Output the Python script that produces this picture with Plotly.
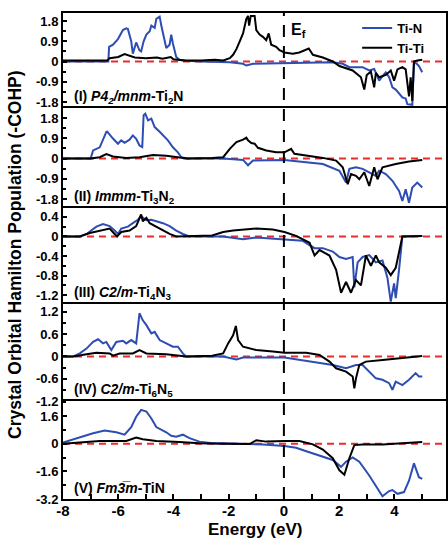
import plotly.graph_objects as go
from plotly.subplots import make_subplots

# ---------------- data (energy in eV, -COHP) ----------------
# Panel I : P4_2/mnm-Ti2N
E_TiN_1 = [-8, -6.36, -6.33, -6.19, -6.01, -5.83, -5.71, -5.65, -5.53, -5.47, -5.35, -5.23, -5.17, -5.08,
           -4.98, -4.86, -4.80, -4.68, -4.62, -4.50, -4.44, -4.38, -4.26, -4.14, -4.08, -4.02, -3.90, -3.78,
           -3.54, -3.0, -2.2, -1.96, -1.48, -1.36, -1.12, 0.02, 0.81, 1.77, 2.13, 2.37, 2.85, 3.09, 3.27,
           3.45, 3.57, 3.69, 3.81, 3.93, 4.05, 4.17, 4.29, 4.41, 4.47, 4.65, 4.68, 4.71, 4.83, 4.89, 5.01]
COHP_TiN_1 = [0, 0, 0.65, 0.75, 1.0, 1.4, 1.48, 1.45, 0.9, 0.35, 0.85, 0.5, 0.45, 0.9,
              1.2, 1.35, 1.6, 1.5, 1.9, 2.0, 1.6, 1.3, 0.6, 0.75, 1.2, 0.8, 0.2, 0.08,
              0.03, 0.0, -0.03, -0.03, -0.1, -0.18, -0.1, -0.07, -0.05, -0.03, -0.1, -0.25, -0.25, -0.4, -0.33,
              -0.85, -0.65, -0.48, -0.7, -1.15, -1.25, -1.45, -1.6, -1.65, -1.9, -1.93, -1.0, -0.03, -0.12, -0.2, -0.48]
E_TiTi_1 = [-8, -6.4, -6.31, -6.0, -5.77, -5.6, -5.4, -5.0, -4.6, -4.4, -4.1, -4.0, -3.6, -3.0, -2.5, -2.2,
            -1.96, -1.84, -1.72, -1.6, -1.48, -1.36, -1.30, -1.26, -1.2, -1.06, -1.0, -0.88, -0.76, -0.64,
            -0.55, -0.46, -0.28, -0.16, 0.02, 0.32, 0.56, 0.9, 1.05, 1.41, 1.77, 2.01, 2.25, 2.49, 2.79, 2.91,
            3.0, 3.15, 3.27, 3.33, 3.45, 3.69, 3.87, 3.99, 4.11, 4.29, 4.41, 4.47, 4.53, 4.59, 4.65, 4.71,
            4.83, 5.01]
COHP_TiTi_1 = [0.04, 0.04, 0.15, 0.2, 0.33, 0.25, 0.18, 0.15, 0.18, 0.12, 0.2, 0.1, 0.04, 0.04, 0.08, 0.05,
               0.15, 0.3, 0.55, 0.9, 1.25, 1.9, 2.03, 1.6, 2.03, 2.03, 1.4, 1.2, 1.1, 0.95,
               1.25, 0.75, 0.65, 0.5, 0.4, 0.35, 0.4, 0.58, 0.3, 0.18, 0.0, -0.2, -0.3, -0.4, -0.7, -1.25,
               -0.6, -0.45, -1.15, -0.5, -0.7, -0.6, -0.4, -0.85, -0.35, -0.25, -0.35, -0.85, -1.55, -0.7, -1.75, 0.0,
               0.05, 0.08]

# Panel II : Immm-Ti3N2
E_TiN_2 = [-8, -7.0, -6.91, -6.67, -6.43, -6.4, -6.19, -6.01, -5.89, -5.77, -5.59, -5.47, -5.35, -5.23,
           -5.13, -5.08, -5.02, -4.92, -4.8, -4.68, -4.5, -4.32, -4.2, -4.02, -3.84, -3.72, -3.5, -2.2,
           -1.48, -1.30, -1.12, 0.02, 0.93, 1.41, 2.01, 2.25, 2.37, 2.61, 2.85, 3.09, 3.33, 3.45, 3.69,
           3.93, 4.17, 4.29, 4.41, 4.53, 4.65, 4.83, 5.01]
COHP_TiN_2 = [0, 0, 0.36, 0.5, 1.19, 1.2, 0.89, 0.66, 0.81, 0.7, 0.84, 1.03, 0.88, 0.58,
              0.51, 1.93, 2.0, 1.7, 1.78, 1.4, 1.19, 0.96, 0.81, 0.5, 0.28, 0.06, 0.0, 0.0,
              -0.06, -0.3, -0.09, -0.06, -0.17, -0.24, -0.54, -1.07, -0.46, -0.39, -0.46, -0.61, -0.77, -0.54, -0.69,
              -0.99, -1.44, -1.89, -1.37, -1.97, -1.29, -1.07, -1.29]
E_TiTi_2 = [-8, -7.0, -6.67, -6.43, -6.19, -5.71, -5.23, -4.74, -4.26, -3.78, -3.5, -2.6, -2.2,
            -1.96, -1.72, -1.48, -1.36, -1.30, -1.18, -1.06, -0.94, -0.64, -0.28, 0.02, 0.26, 0.38, 0.93,
            1.41, 1.89, 2.13, 2.31, 2.43, 2.61, 2.73, 2.91, 3.09, 3.27, 3.39, 3.57, 3.81, 4.05, 4.53, 5.01]
COHP_TiTi_2 = [0, 0, 0.06, 0.2, 0.09, 0.03, 0.06, 0.16, 0.13, 0.03, 0, 0.02, 0.06,
               0.43, 0.73, 0.84, 0.93, 0.81, 0.69, 0.66, 0.48, 0.36, 0.28, 0.28, 0.43, 0.21, 0.13,
               0.03, -0.09, -0.39, -1.14, -0.69, -0.77, -0.92, -0.61, -1.22, -0.39, -0.92, -0.39, -0.31, -0.24, -0.13, -0.06]

# Panel III : C2/m-Ti4N3
E_TiN_3 = [-8, -7.39, -7.15, -6.79, -6.55, -6.31, -6.13, -6.01, -5.89, -5.65, -5.47, -5.29, -5.17, -4.98,
           -4.8, -4.62, -4.38, -4.14, -3.9, -3.66, -3.42, -2.2, -1.48, -1.0, 0.02, 0.68, 1.11, 1.41, 1.77,
           2.01, 2.25, 2.49, 2.55, 2.67, 2.85, 3.09, 3.33, 3.57, 3.75, 3.87, 3.99, 4.05, 4.17, 4.29, 5.01]
COHP_TiN_3 = [0, 0, 0.05, 0.2, 0.25, 0.21, 0.12, 0.05, 0.16, 0.2, 0.27, 0.34, 0.41, 0.33,
              0.34, 0.31, 0.27, 0.21, 0.12, 0.05, 0, 0, -0.06, -0.02, -0.06, -0.09, -0.24, -0.24, -0.31,
              -0.42, -0.46, -0.42, -1.04, -0.53, -0.42, -0.38, -0.53, -0.49, -0.85, -1.33, -0.96, -1.26, -0.68, 0.0, 0.01]
E_TiTi_3 = [-8, -7.39, -7.03, -6.67, -6.31, -6.13, -6.04, -5.89, -5.59, -5.35, -5.17, -5.11, -4.98, -4.86,
            -4.62, -4.38, -4.14, -3.9, -2.6, -2.2, -1.84, -1.0, -0.4, 0.02, 0.44, 0.93, 1.11, 1.29, 1.65,
            1.89, 2.07, 2.25, 2.43, 2.61, 2.79, 2.97, 3.15, 3.33, 3.45, 3.69, 3.87, 4.05, 4.17, 4.29, 5.01]
COHP_TiTi_3 = [0, 0, 0.07, 0.11, 0.16, 0.05, 0.0, 0.09, 0.12, 0.21, 0.45, 0.31, 0.38, 0.27,
               0.2, 0.12, 0.05, 0.0, 0.02, 0.09, 0.12, 0.16, 0.14, 0.09, 0.01, -0.13, -0.39, -0.28, -0.39,
               -0.68, -1.15, -0.93, -1.15, -0.89, -1.0, -0.39, -0.6, -0.39, -0.53, -0.64, -0.79, -0.64, -0.31, 0.0, 0.01]

# Panel IV : C2/m-Ti6N5
E_TiN_4 = [-8, -7.63, -7.39, -7.15, -6.91, -6.73, -6.55, -6.43, -6.25, -6.07, -5.83, -5.71, -5.53, -5.35,
           -5.23, -5.11, -4.98, -4.8, -4.68, -4.5, -4.26, -4.02, -3.84, -3.66, -3.54, -2.2, -1.72, -1.48,
           0.02, 0.81, 1.29, 1.77, 2.25, 2.61, 2.85, 3.09, 3.33, 3.57, 3.81, 3.93, 4.05, 4.29, 4.53, 4.77,
           4.89, 5.01]
COHP_TiN_4 = [0, 0, 0.08, 0.21, 0.39, 0.46, 0.35, 0.39, 0.17, 0.39, 0.42, 0.35, 0.44, 0.35,
              1.16, 0.97, 0.84, 0.62, 0.66, 0.44, 0.35, 0.26, 0.26, 0.08, 0, 0, -0.08, -0.03,
              -0.03, -0.12, -0.19, -0.23, -0.32, -0.23, -0.23, -0.41, -0.59, -0.63, -0.72, -0.9, -0.68, -0.77, -0.63, -0.45,
              -0.54, -0.54]
E_TiTi_4 = [-8, -7.63, -7.15, -6.79, -6.31, -6.19, -5.95, -5.47, -5.23, -4.98, -4.26, -3.78, -3.54, -2.6,
            -2.2, -2.02, -1.84, -1.74, -1.66, -1.48, -1.0, -0.4, 0.02, 0.81, 1.29, 1.65, 1.89, 2.25, 2.49,
            2.55, 2.61, 2.73, 2.97, 3.57, 4.17, 4.77, 5.01]
COHP_TiTi_4 = [0, 0, 0.06, 0.1, 0.08, 0.02, 0.08, 0.08, 0.17, 0.08, 0.06, 0.02, 0, 0.02,
               0.08, 0.35, 0.57, 0.82, 0.44, 0.26, 0.17, 0.13, 0.1, 0.1, 0.04, -0.14, -0.32, -0.41, -0.54,
               -0.86, -0.59, -0.23, -0.14, -0.1, -0.05, 0.01, 0.01]

# Panel V : Fm-3m-TiN
E_TiN_5 = [-8, -7.39, -6.91, -6.49, -6.07, -5.77, -5.53, -5.35, -5.17, -4.98, -4.8, -4.62, -4.38, -4.26,
           -4.08, -3.9, -3.66, -3.42, -3.06, -2.58, -2.2, -1.48, -0.76, 0.02, 0.44, 0.81, 1.41, 1.77, 2.07,
           2.25, 2.49, 2.73, 3.09, 3.33, 3.57, 3.81, 3.93, 4.11, 4.35, 4.53, 4.71, 4.89, 5.01]
COHP_TiN_5 = [0.06, 0.36, 0.6, 0.76, 0.66, 0.52, 0.96, 1.56, 1.96, 1.86, 1.46, 0.96, 0.76, 0.66,
              0.46, 0.4, 0.52, 0.32, 0.12, 0.02, 0.02, 0.0, -0.04, -0.14, -0.24, -0.44, -0.74, -0.94, -1.34,
              -1.04, -0.8, -1.04, -1.84, -2.44, -3.04, -2.74, -2.68, -2.9, -2.8, -2.14, -1.14, -1.94, -2.04]
E_TiTi_5 = [-8, -7.27, -6.67, -5.71, -5.35, -5.11, -4.62, -3.78, -3.06, -2.2, -1.24, -1.0, -0.64, 0.02,
            0.56, 1.05, 1.41, 1.77, 2.01, 2.19, 2.37, 2.55, 2.85, 3.57, 4.29, 5.01]
COHP_TiTi_5 = [0, 0.1, 0.16, 0.16, 0.36, 0.26, 0.16, 0.1, 0.02, 0, -0.02, 0.2, 0.12, 0.16,
               0.16, -0.04, -0.34, -0.84, -1.54, -1.8, -0.84, -0.08, -0.04, -0.04, 0.02, 0.1]

panel_labels = [
    "<b>(I) <i>P4<sub>2</sub>/mnm</i>-Ti<sub>2</sub>N</b>",
    "<b>(II) <i>Immm</i>-Ti<sub>3</sub>N<sub>2</sub></b>",
    "<b>(III) <i>C2/m</i>-Ti<sub>4</sub>N<sub>3</sub></b>",
    "<b>(IV) <i>C2/m</i>-Ti<sub>6</sub>N<sub>5</sub></b>",
    "<b>(V) <i>Fm3\u0305m</i>-TiN</b>",
]
y_ranges = [[-2.07, 2.16], [-2.2, 2.25], [-1.38, 0.58], [-1.2, 1.41], [-3.2, 2.47]]
y_tickvals = [[-1.8, -0.9, 0, 0.9, 1.8], [-1.8, -0.9, 0, 0.9, 1.8], [-1.2, -0.8, -0.4, 0, 0.4],
              [-1.2, -0.6, 0, 0.6, 1.2], [-3.2, -1.6, 0, 1.6]]
y_ticktext = [["-1.8", "-0.9", "0", "0.9", "1.8"], ["-1.8", "-0.9", "0", "0.9", "1.8"],
              ["-1.2", "-0.8", "-0.4", "0", "0.4"], ["-1.2", "-0.6", "0", "0.6", "1.2"],
              ["-3.2", "-1.6", "0", "1.6"]]
y_minor = [0.45, 0.45, 0.2, 0.3, 0.8]
x_tickvals = [-8, -6, -4, -2, 0, 2, 4]
x_ticktext = ["-8", "-6", "-4", "-2", "0", "2", "4"]

# ---------------- figure ----------------
BLUE = "#2d4db2"
RED = "#ee2a2a"
FONT = "Liberation Sans, Arial, sans-serif"

fig = make_subplots(rows=5, cols=1, shared_xaxes=True, vertical_spacing=0,
                    row_heights=[95, 100, 96, 97, 98])

panels = [(E_TiN_1, COHP_TiN_1, E_TiTi_1, COHP_TiTi_1),
          (E_TiN_2, COHP_TiN_2, E_TiTi_2, COHP_TiTi_2),
          (E_TiN_3, COHP_TiN_3, E_TiTi_3, COHP_TiTi_3),
          (E_TiN_4, COHP_TiN_4, E_TiTi_4, COHP_TiTi_4),
          (E_TiN_5, COHP_TiN_5, E_TiTi_5, COHP_TiTi_5)]

for i, (eb, vb, ek, vk) in enumerate(panels):
    r = i + 1
    fig.add_trace(go.Scatter(x=eb, y=vb, mode="lines", line=dict(color=BLUE, width=2),
                             name="Ti-N", legendgroup="n", showlegend=(r == 1)), row=r, col=1)
    fig.add_trace(go.Scatter(x=ek, y=vk, mode="lines", line=dict(color="black", width=2),
                             name="Ti-Ti", legendgroup="t", showlegend=(r == 1)), row=r, col=1)
    sfx = "" if r == 1 else str(r)
    # red zero line
    fig.add_shape(type="line", xref=f"x{sfx} domain", yref=f"y{sfx}", x0=0, x1=1, y0=0, y1=0,
                  line=dict(color=RED, width=2, dash="7px,5px"), layer="below")
    fig.add_annotation(text=panel_labels[i], xref=f"x{sfx} domain", yref=f"y{sfx} domain",
                       x=0.024, y=0.115, xanchor="left", yanchor="middle", showarrow=False,
                       font=dict(size=14, color="black", family=FONT))
    fig.update_yaxes(row=r, col=1, range=y_ranges[i], tickmode="array", tickvals=y_tickvals[i],
                     ticktext=y_ticktext[i], ticks="inside", ticklen=4, tickwidth=1.5, tickcolor="black",
                     minor=dict(ticks="inside", dtick=y_minor[i], tick0=0, ticklen=3, tickcolor="black"),
                     showline=True, mirror=True, linewidth=2, linecolor="black", showgrid=False,
                     zeroline=False, tickfont=dict(size=13, weight="bold", color="black", family=FONT))
    if r < 5:
        # only the top frame line; the bottom edge is drawn by the panel below
        fig.update_xaxes(row=r, col=1, range=[-8, 5.87], side="top", showline=True, mirror=False,
                         linewidth=2, linecolor="black", showgrid=False, zeroline=False,
                         showticklabels=False, ticks="")
    else:
        fig.update_xaxes(row=r, col=1, range=[-8, 5.87], showline=True, mirror=True, linewidth=2,
                         linecolor="black", showgrid=False, zeroline=False, showticklabels=True,
                         ticks="inside", tickmode="array", tickvals=x_tickvals, ticktext=x_ticktext,
                         ticklen=5, tickwidth=1.5, tickcolor="black", ticklabelstandoff=-3,
                         minor=dict(ticks="inside", dtick=1, tick0=0, ticklen=5, tickcolor="black"),
                         tickfont=dict(size=15, weight="bold", color="black", family=FONT))

# Fermi level
fig.add_shape(type="line", xref="x", yref="paper", x0=0, x1=0, y0=0, y1=1,
              line=dict(color="black", width=2, dash="12px,9px"), layer="above")
fig.add_annotation(text="<b>E<sub>f</sub></b>", xref="x", yref="y domain", x=0, y=0.82,
                   xanchor="left", yanchor="middle", xshift=5, showarrow=False,
                   font=dict(size=16, color="black", family=FONT))

# axis titles
fig.add_annotation(text="<b>Crystal Orbital Hamilton Population (-COHP)</b>", xref="paper", yref="paper",
                   x=-0.127, y=0.503, textangle=-90, showarrow=False, xanchor="center", yanchor="middle",
                   font=dict(size=17.5, color="black", family=FONT))
fig.add_annotation(text="<b>Energy (eV)</b>", xref="paper", yref="paper", x=0.5, y=-0.062,
                   showarrow=False, xanchor="center", yanchor="middle",
                   font=dict(size=17, color="black", family=FONT))

fig.update_layout(
    width=448, height=539,
    margin=dict(l=63, r=0, t=13, b=40),
    paper_bgcolor="white", plot_bgcolor="white",
    font=dict(family=FONT, color="black"),
    legend=dict(x=0.768, y=1.0, xanchor="left", yanchor="top", bgcolor="rgba(0,0,0,0)",
                font=dict(size=13, weight="bold", color="black", family=FONT), tracegroupgap=0,
                itemwidth=30),
)

fig.write_html("out.html", config={"displayModeBar": False},
               post_script="document.body.style.margin='0px';")
